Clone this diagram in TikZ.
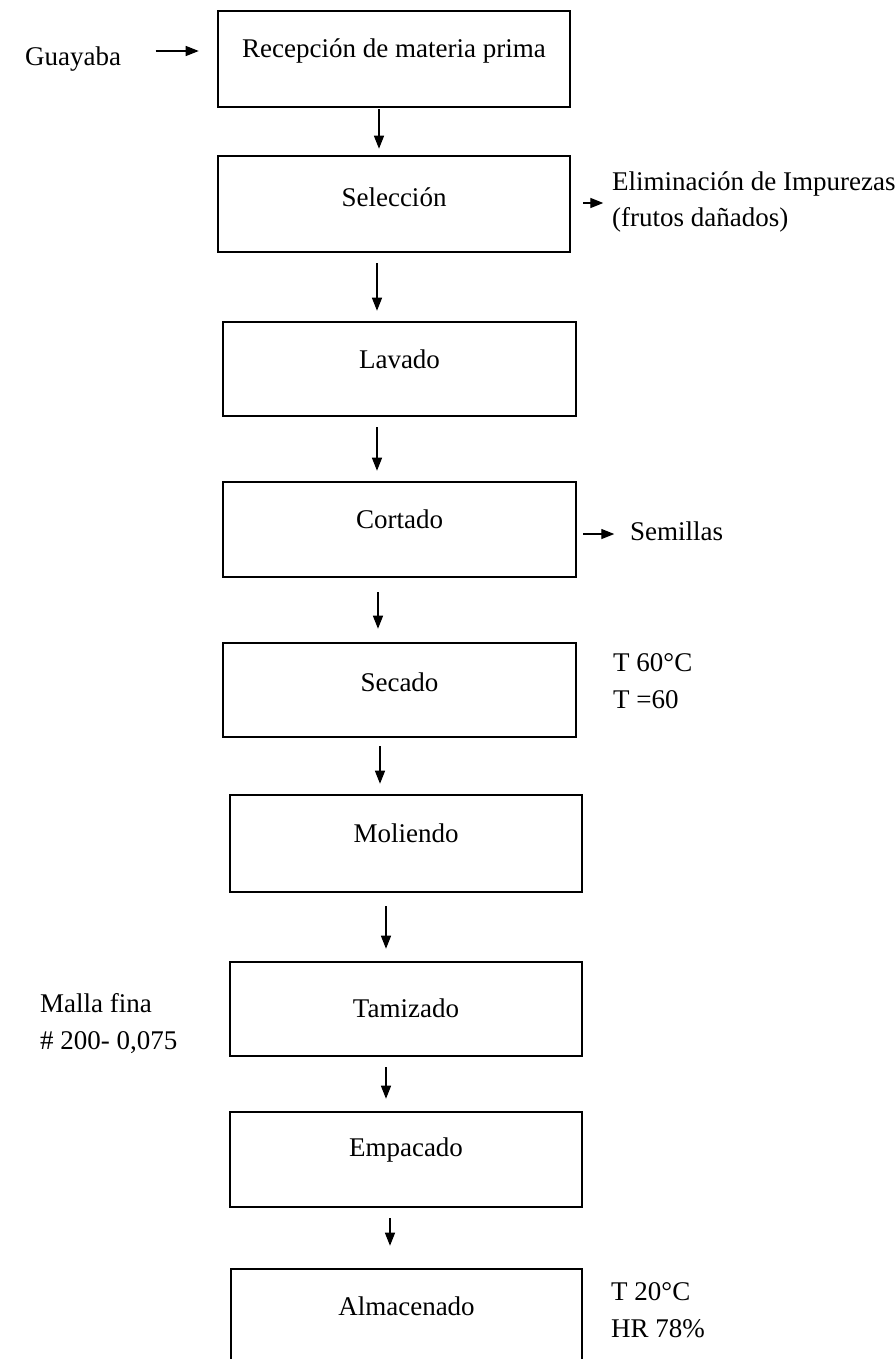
\documentclass[tikz,border=0pt]{standalone}
\usepackage{fontspec}
\setmainfont{Liberation Serif}
\usetikzlibrary{arrows.meta,calc}

\tikzset{
  procbox/.style={draw=black, line width=2.6pt, fill=white, inner sep=0pt},
  lbl/.style={inner sep=0pt, anchor=base, font=\fontsize{27}{37}\selectfont},
  lblw/.style={lbl, anchor=base west},
  flow/.style={line width=1.3pt, -{Triangle[length=13pt,width=10pt]}},
}

\begin{document}
\begin{tikzpicture}[x=1pt, y=-1pt]
  \useasboundingbox (0,0) rectangle (895,1359);
  \clip (0,0) rectangle (895,1359);

  % process boxes
  \node[procbox, minimum width=352pt, minimum height=96pt] (b1) at (394,59) {};
  \node[procbox, minimum width=352pt, minimum height=96pt] (b2) at (394,204) {};
  \node[procbox, minimum width=353pt, minimum height=94pt] (b3) at (399.5,369) {};
  \node[procbox, minimum width=353pt, minimum height=95pt] (b4) at (399.5,529.5) {};
  \node[procbox, minimum width=353pt, minimum height=94pt] (b5) at (399.5,690) {};
  \node[procbox, minimum width=352pt, minimum height=97pt] (b6) at (406,843.5) {};
  \node[procbox, minimum width=352pt, minimum height=94pt] (b7) at (406,1009) {};
  \node[procbox, minimum width=352pt, minimum height=95pt] (b8) at (406,1159.5) {};
  \node[procbox, minimum width=351pt, minimum height=140pt] (b9) at (406.5,1339) {};

  % step names
  \node[lbl] (t1) at (394,58) {Recepción de materia prima};
  \node[lbl] (t2) at (394,206) {Selección};
  \node[lbl] (t3) at (399.5,368) {Lavado};
  \node[lbl] (t4) at (399.5,528) {Cortado};
  \node[lbl] (t5) at (399.5,691) {Secado};
  \node[lbl] (t6) at (406,842) {Moliendo};
  \node[lbl] (t7) at (406,1017) {Tamizado};
  \node[lbl] (t8) at (406,1156) {Empacado};
  \node[lbl] (t9) at (406.5,1315) {Almacenado};

  % inputs, outputs and conditions
  \node[lblw] (guay) at (25,66) {Guayaba};
  \node[lblw] (elim1) at (612,190) {Eliminación de Impurezas};
  \node[lblw] (elim2) at (612,226) {(frutos dañados)};
  \node[lblw] (sem) at (630,540) {Semillas};
  \node[lblw] (sec1) at (613,671) {T 60°C};
  \node[lblw] (sec2) at (613,708) {T =60};
  \node[lblw] (mal1) at (40,1012) {Malla fina};
  \node[lblw] (mal2) at (40,1049) {\# 200- 0,075};
  \node[lblw] (alm1) at (611,1300) {T 20°C};
  \node[lblw] (alm2) at (611,1337) {HR 78\%};

  % side arrows
  \draw[flow] ($(b1.west)+(-61,-8)$) -- ($(b1.west)+(-18,-8)$);
  \draw[flow] ($(b2.east)+(12,-1)$) -- ($(b2.east)+(32,-1)$);
  \draw[flow] ($(b4.east)+(6,4.5)$) -- ($(b4.east)+(37,4.5)$);

  % main flow: each arrow drops straight down between two boxes
  \coordinate (a1) at ($(b1.south)+(-15,1)$);
  \coordinate (a2) at ($(b2.south)+(-17,10)$);
  \coordinate (a3) at ($(b3.south)+(-22.5,10)$);
  \coordinate (a4) at ($(b4.south)+(-21.5,14)$);
  \coordinate (a5) at ($(b5.south)+(-19.5,8)$);
  \coordinate (a6) at ($(b6.south)+(-20,13)$);
  \coordinate (a7) at ($(b7.south)+(-20,10)$);
  \coordinate (a8) at ($(b8.south)+(-16,10)$);
  \draw[flow] (a1) -- ($(a1 |- b2.north)+(0,-6)$);
  \draw[flow] (a2) -- ($(a2 |- b3.north)+(0,-10)$);
  \draw[flow] (a3) -- ($(a3 |- b4.north)+(0,-10)$);
  \draw[flow] (a4) -- ($(a4 |- b5.north)+(0,-13)$);
  \draw[flow] (a5) -- ($(a5 |- b6.north)+(0,-10)$);
  \draw[flow] (a6) -- ($(a6 |- b7.north)+(0,-12)$);
  \draw[flow] (a7) -- ($(a7 |- b8.north)+(0,-12)$);
  \draw[flow] (a8) -- ($(a8 |- b9.north)+(0,-22)$);
\end{tikzpicture}
\end{document}
